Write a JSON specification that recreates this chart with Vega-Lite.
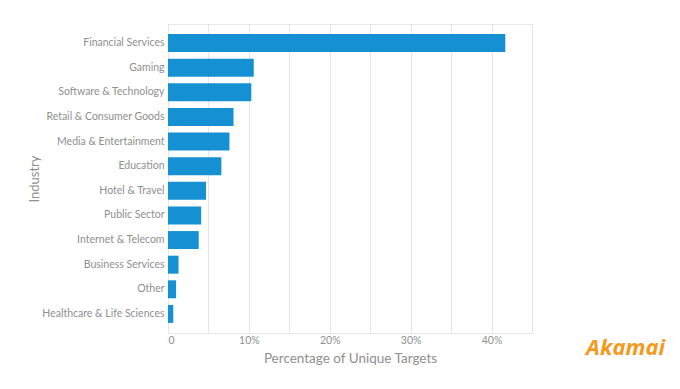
{
  "$schema": "https://vega.github.io/schema/vega-lite/v6.json",
  "width": 364,
  "height": 309,
  "padding": {"left": 28, "top": 24, "right": 5, "bottom": 5},
  "background": "white",
  "config": {
    "font": "Lato",
    "view": {"stroke": "#e8e8e8"},
    "axis": {"labelColor": "#8f8f8f", "titleColor": "#8f8f8f", "titleFontWeight": "normal", "gridColor": "#e6e6e6", "domain": false, "ticks": false}
  },
  "title": {"text": "Akamai", "orient": "bottom", "anchor": "end", "color": "#f39a1e", "fontSize": 22, "fontWeight": "bold", "fontStyle": "italic", "font": "Open Sans", "dx": 133, "dy": -31},
  "data": {"values": [
    {"industry": "Financial Services", "pct": 41.7},
    {"industry": "Gaming", "pct": 10.6},
    {"industry": "Software & Technology", "pct": 10.3},
    {"industry": "Retail & Consumer Goods", "pct": 8.1},
    {"industry": "Media & Entertainment", "pct": 7.6},
    {"industry": "Education", "pct": 6.6},
    {"industry": "Hotel & Travel", "pct": 4.7},
    {"industry": "Public Sector", "pct": 4.1},
    {"industry": "Internet & Telecom", "pct": 3.8},
    {"industry": "Business Services", "pct": 1.3},
    {"industry": "Other", "pct": 1.0},
    {"industry": "Healthcare & Life Sciences", "pct": 0.65}
  ]},
  "mark": {"type": "bar", "color": "#1591d3"},
  "encoding": {
    "y": {"field": "industry", "type": "nominal", "sort": null, "title": "Industry",
      "scale": {"paddingInner": 0.27, "paddingOuter": 0.41},
      "axis": {"labelFontSize": 10.5, "labelPadding": 4, "titleFontSize": 13, "titlePadding": 0}},
    "x": {"field": "pct", "type": "quantitative", "title": "Percentage of Unique Targets",
      "scale": {"domain": [0, 45], "nice": false},
      "axis": {"values": [0, 5, 10, 15, 20, 25, 30, 35, 40, 45], "labelExpr": "datum.value == 0 ? '0' : (datum.value % 10 == 0 ? datum.value + '%' : '')", "labelFontSize": 10.5, "labelPadding": 2, "titleFontSize": 13.5, "titlePadding": 6}}
  }
}
